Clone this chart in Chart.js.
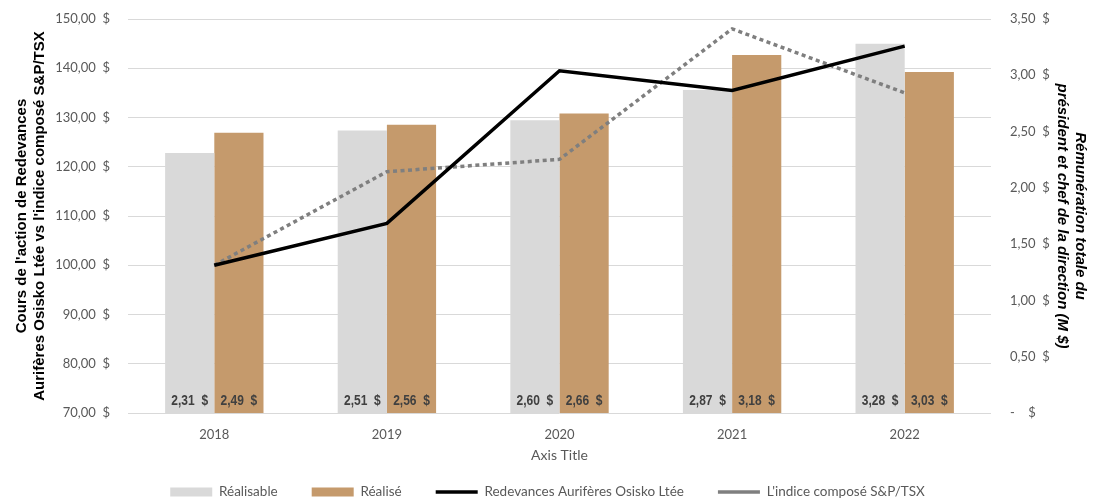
<!DOCTYPE html>
<html>
<head>
<meta charset="utf-8">
<script src="https://cdn.jsdelivr.net/npm/chart.js@4.4.1/dist/chart.umd.min.js"></script>
<style>
  html, body { margin: 0; padding: 0; background: #ffffff; }
  #wrap { width: 1095px; height: 499px; position: relative; }
</style>
</head>
<body>
<div id="wrap"><canvas id="c" width="1095" height="499"></canvas></div>
<script>
const years = ['2018', '2019', '2020', '2021', '2022'];
const realisable = [2.31, 2.51, 2.60, 2.87, 3.28];
const realise = [2.49, 2.56, 2.66, 3.18, 3.03];
const osisko = [100, 108.5, 139.5, 135.5, 144.5];
const sptsx = [100, 119, 121.5, 148, 135];
const seriesNames = ['Réalisable', 'Réalisé', 'Redevances Aurifères Osisko Ltée', "L'indice composé S&P/TSX"];
const leftTitle = ["Cours de l'action de Redevances", "Aurifères Osisko Ltée vs l'indice composé S&P/TSX"];
const rightTitle = ['Rémunération totale du', 'président et chef de la direction (M $)'];
const xTitle = 'Axis Title';

const frNum = v => v.toFixed(2).replace('.', ',');

const barLabels = {
  id: 'barLabels',
  afterDatasetsDraw(chart) {
    const ctx = chart.ctx;
    const y1 = chart.scales.y1;
    const base = y1.getPixelForValue(0);
    [0, 1].forEach(di => {
      const meta = chart.getDatasetMeta(di);
      const data = chart.data.datasets[di].data;
      meta.data.forEach((el, i) => {
        ctx.save();
        ctx.translate(el.x, base - 12);
        ctx.scale(0.8, 1);
        ctx.font = 'bold 15px "Liberation Sans", Arial, sans-serif';
        ctx.fillStyle = '#404040';
        ctx.textAlign = 'center';
        ctx.textBaseline = 'middle';
        ctx.fillText(frNum(data[i]) + '  $', 0, 0);
        ctx.restore();
      });
    });
  }
};

const LEGEND_H = 33;
const LEGEND_FONT = 13.5;
const legendShift = {
  id: 'legendShift',
  afterLayout(chart) {
    const l = chart.legend;
    if (l) {
      const pad = l.options.labels.padding;
      l.top = (chart.height - 7) - LEGEND_FONT / 2 - pad;
      l.bottom = chart.height;
      l.height = l.bottom - l.top;
    }
  }
};

Chart.defaults.font.family = 'Lato, "Open Sans", sans-serif';
Chart.defaults.color = '#595959';

new Chart(document.getElementById('c'), {
  type: 'bar',
  data: {
    labels: years,
    datasets: [
      { label: seriesNames[0], data: realisable, yAxisID: 'y1', backgroundColor: '#d9d9d9', borderWidth: 0, order: 2, pointStyle: 'rect' },
      { label: seriesNames[1], data: realise, yAxisID: 'y1', backgroundColor: '#c59a6c', borderWidth: 0, order: 2, pointStyle: 'rect' },
      { type: 'line', label: seriesNames[2], data: osisko, yAxisID: 'y', borderColor: '#000000', backgroundColor: '#000000', borderWidth: 3.5, pointRadius: 0, pointStyle: 'line', order: 0, tension: 0 },
      { type: 'line', label: seriesNames[3], data: sptsx, yAxisID: 'y', borderColor: '#7f7f7f', backgroundColor: '#7f7f7f', borderWidth: 3.5, borderDash: [4, 3.5], borderCapStyle: 'butt', pointRadius: 0, pointStyle: 'line', order: 1, tension: 0 }
    ]
  },
  options: {
    responsive: false,
    animation: false,
    devicePixelRatio: 1,
    layout: { padding: { top: 19, left: 0, right: 0, bottom: 0 } },
    datasets: { bar: { barPercentage: 1, categoryPercentage: 0.57 } },
    plugins: {
      tooltip: { enabled: false },
      legend: {
        position: 'bottom',
        maxHeight: LEGEND_H,
        labels: {
          usePointStyle: true,
          pointStyleWidth: 42,
          boxHeight: 9,
          padding: 34,
          color: '#595959',
          font: { size: LEGEND_FONT },
          sort: (a, b) => a.datasetIndex - b.datasetIndex
        }
      }
    },
    scales: {
      x: {
        grid: { display: false },
        border: { display: false },
        ticks: { padding: 6, font: { size: 13 }, color: '#595959' },
        title: { display: true, text: xTitle, color: '#595959', font: { size: 14 }, padding: { top: 0, bottom: 2 } },
        afterFit: s => { s.height = 499 - 413 - LEGEND_H; }
      },
      y: {
        position: 'left',
        min: 70, max: 150,
        grid: { color: '#d9d9d9', lineWidth: 1, drawTicks: true, tickLength: 18, tickColor: 'rgba(0,0,0,0)' },
        border: { display: false },
        ticks: { stepSize: 10, padding: 0, font: { size: 13 }, color: '#595959', callback: v => frNum(v) + '\u00a0\u00a0$' },
        title: { display: true, text: leftTitle, color: '#000000', font: { family: '"Liberation Sans", Arial, sans-serif', size: 15, weight: 'bold', lineHeight: 1.2 }, padding: { top: 13, bottom: 0 } },
        afterFit: s => { s.width = 128; }
      },
      y1: {
        position: 'right',
        min: 0, max: 3.5,
        grid: { display: false, drawOnChartArea: false, drawTicks: true, tickLength: 19, tickColor: 'rgba(0,0,0,0)' },
        border: { display: false },
        ticks: { stepSize: 0.5, padding: 0, font: { size: 13 }, color: '#595959', callback: v => v === 0 ? '-\u00a0\u00a0\u00a0\u00a0$' : frNum(v) + '\u00a0\u00a0$' },
        title: { display: true, text: rightTitle, color: '#000000', font: { family: '"Liberation Sans", Arial, sans-serif', size: 15, weight: 'bold', style: 'italic', lineHeight: 1.2 }, padding: { top: 6, bottom: 0 } },
        afterFit: s => { s.width = 104; }
      }
    }
  },
  plugins: [barLabels, legendShift]
});
</script>
</body>
</html>
